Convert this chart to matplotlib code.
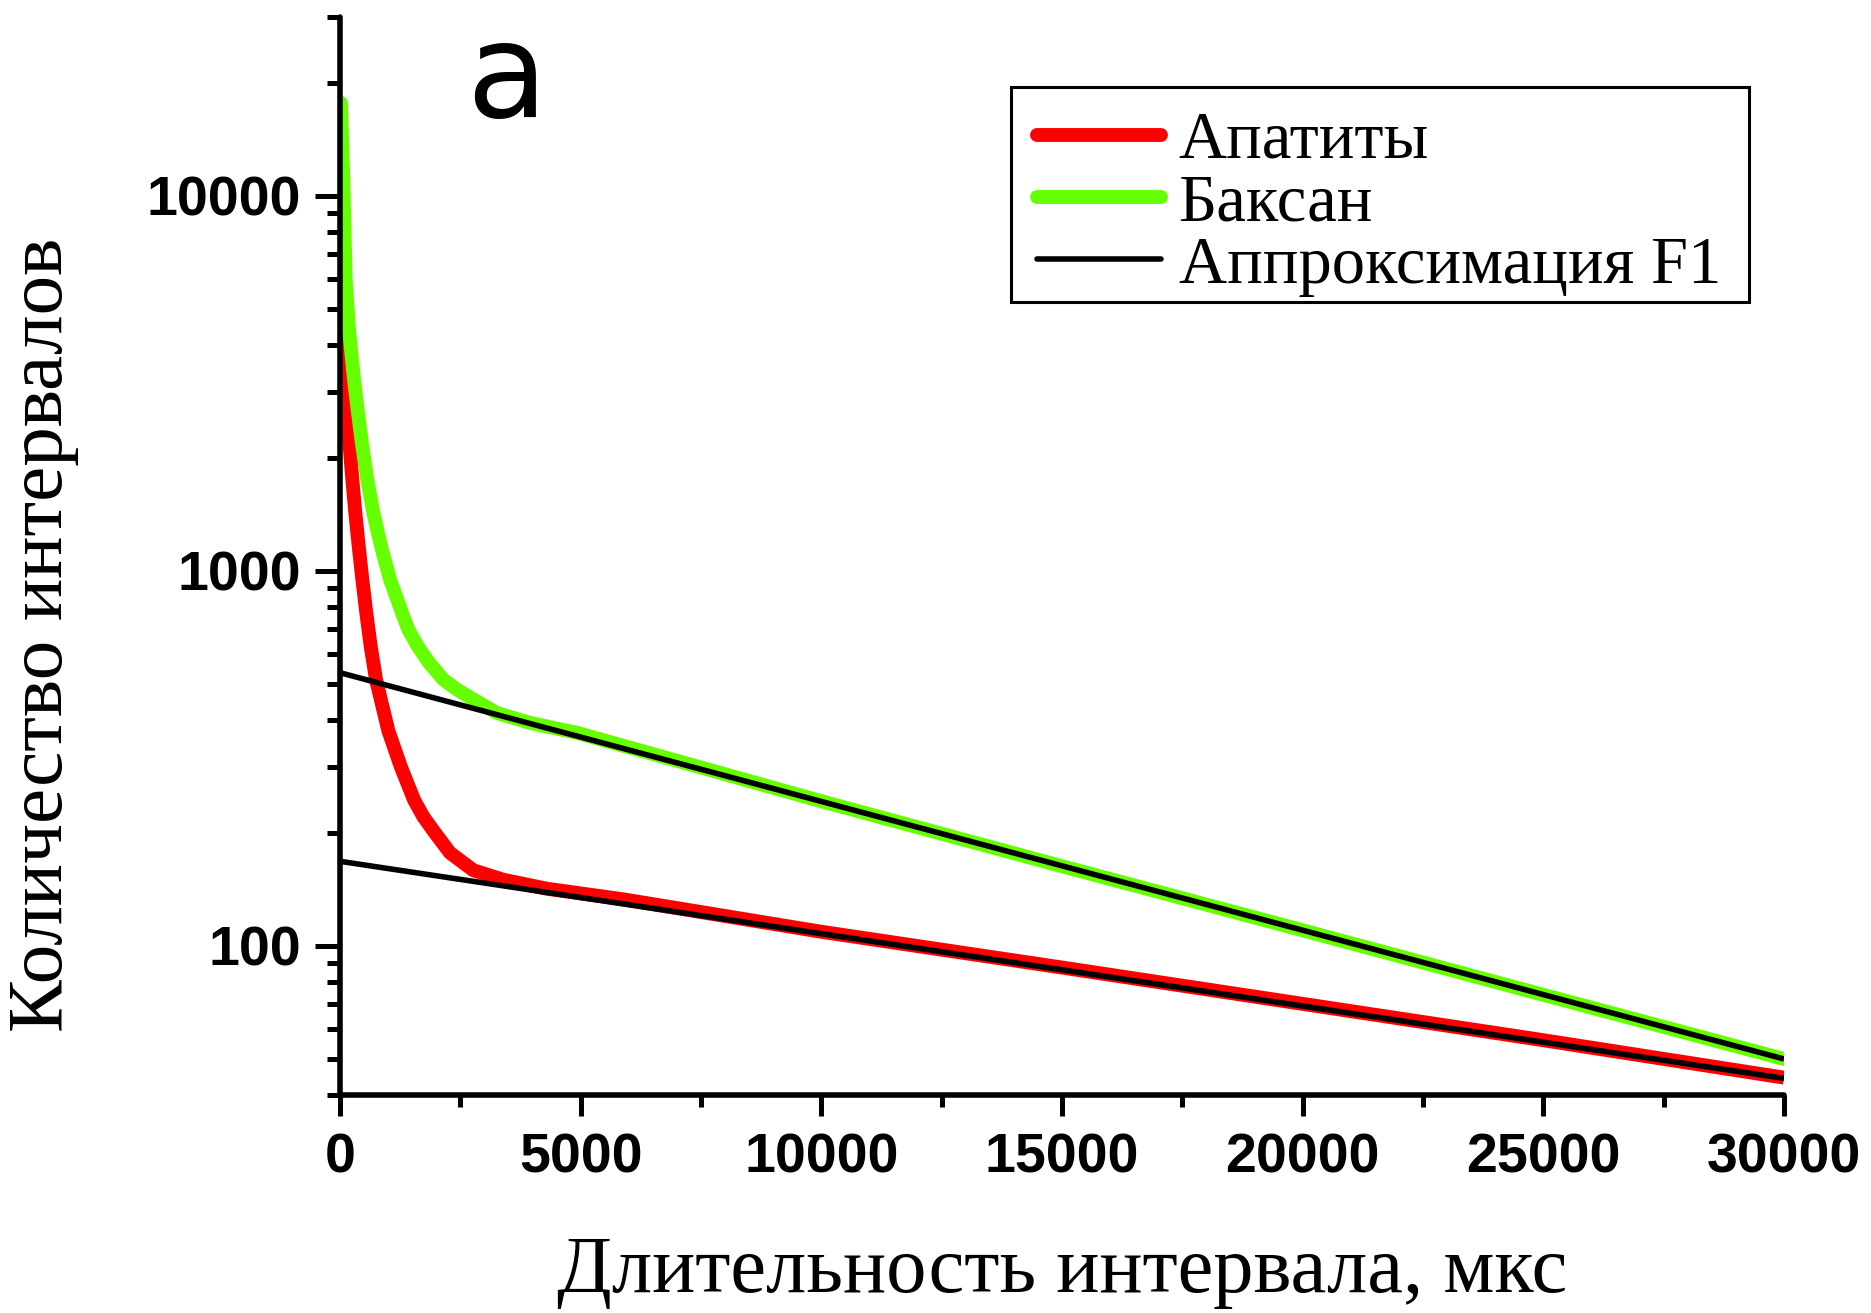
import matplotlib
matplotlib.use("Agg")
import matplotlib.pyplot as plt
from matplotlib.patches import Rectangle
from matplotlib.ticker import LogLocator, MultipleLocator, NullFormatter, FixedLocator

# data (x in mks, y = number of intervals)
apatity_x = [0, 69, 139, 201, 256, 318, 388, 464, 546, 637, 748, 873, 1004, 1261,
             1538, 1731, 1974, 2285, 2770, 3393, 4294, 5886,
             10000, 15000, 20000, 25000, 30000]
apatity_y = [5880, 3245, 2644, 2154, 1755, 1430, 1165, 949, 773, 630, 513, 440, 375, 301,
             245, 221, 200, 177, 159, 150, 142, 133,
             109, 87.5, 70, 56, 44.5]

baksan_x = [21, 69, 118, 187, 291, 374, 463, 567, 692, 852, 1039, 1288, 1419, 1614,
            1849, 2146, 2425, 2770, 3256, 3948, 4918,
            10000, 15000, 20000, 25000, 30000]
baksan_y = [17710, 11100, 6000, 4415, 3245, 2644, 2154, 1755, 1430, 1165, 949, 773, 698, 630,
            569, 513, 483, 454, 418, 393, 370,
            243, 163, 110, 74, 49.9]

# F1 approximations: straight lines on the log scale, end points
fit_x = [0, 30000]
fit_baksan = [535, 49.9]
fit_apatity = [168, 44.3]

labels = ['Апатиты', 'Баксан', 'Аппроксимация F1']
xticks = [0, 5000, 10000, 15000, 20000, 25000, 30000]
yticks = [100, 1000, 10000]

W, H = 1871, 1313
fig = plt.figure(figsize=(W / 100, H / 100), dpi=100)
ax = fig.add_axes([340 / W, (H - 1095) / H, (1784 - 340) / W, (1095 - 17) / H])

ax.plot(apatity_x, apatity_y, color='#ff0000', lw=10, solid_capstyle='butt',
        solid_joinstyle='round', label=labels[0])
ax.plot(baksan_x, baksan_y, color='#66ff00', lw=10, solid_capstyle='round',
        solid_joinstyle='round', label=labels[1])
ax.plot(fit_x, fit_baksan, color='black', lw=4, solid_capstyle='butt', label=labels[2])
ax.plot(fit_x, fit_apatity, color='black', lw=4, solid_capstyle='butt')

ax.set_yscale('log')
ax.set_xlim(0, 30000)
ax.set_ylim(40, 30000)

ax.xaxis.set_major_locator(FixedLocator(xticks))
ax.xaxis.set_minor_locator(MultipleLocator(2500))
ax.set_xticklabels([str(t) for t in xticks])
ax.yaxis.set_major_locator(FixedLocator(yticks))
ax.yaxis.set_minor_locator(LogLocator(base=10, subs=range(2, 10)))
ax.yaxis.set_minor_formatter(NullFormatter())
ax.set_yticklabels([str(t) for t in yticks])

for s in ['top', 'right']:
    ax.spines[s].set_visible(False)
for s in ['left', 'bottom']:
    ax.spines[s].set_linewidth(4)
    ax.spines[s].set_capstyle('round')

ax.tick_params(axis='both', which='major', direction='out', width=3.6, color='black')
ax.tick_params(axis='both', which='minor', direction='out', width=3.6, color='black')
ax.tick_params(axis='y', which='major', length=18, pad=10)
ax.tick_params(axis='y', which='minor', length=9.5)
ax.tick_params(axis='x', which='major', length=15, pad=12)
ax.tick_params(axis='x', which='minor', length=8.5)
for lab in ax.get_xticklabels() + ax.get_yticklabels():
    lab.set_fontfamily('Liberation Sans')
    lab.set_fontweight('bold')
    lab.set_fontsize(40)

# legend entries without frame, frame drawn separately to match the box size
leg = ax.legend(loc='upper right', bbox_to_anchor=(1749 / W, 1 - 83 / H),
                bbox_transform=fig.transFigure,
                prop={'family': 'Liberation Serif', 'size': 48},
                handlelength=1.86, handletextpad=0.27, labelspacing=0.02,
                borderpad=0.42, borderaxespad=0, frameon=False)
for h in leg.get_lines():
    h.set_solid_capstyle('round')
fig.patches.append(Rectangle((1011 / W, 1 - 302 / H), (1749 - 1011) / W, (302 - 87) / H,
                             transform=fig.transFigure, fill=False,
                             edgecolor='black', lw=2.2, zorder=5))

fig.text(62 / W, 1 - 635 / H, 'Количество интервалов', rotation=90,
         rotation_mode='anchor', ha='center', va='baseline',
         family='Liberation Serif', fontsize=57)
fig.text(1062 / W, 1 - 1292 / H, 'Длительность интервала, мкс',
         ha='center', va='baseline', family='Liberation Serif', fontsize=58)
fig.text(507 / W, 1 - 117 / H, 'a', ha='center', va='baseline',
         family='DejaVu Sans', fontsize=95)

fig.savefig('out.png', dpi=100, facecolor='white')
